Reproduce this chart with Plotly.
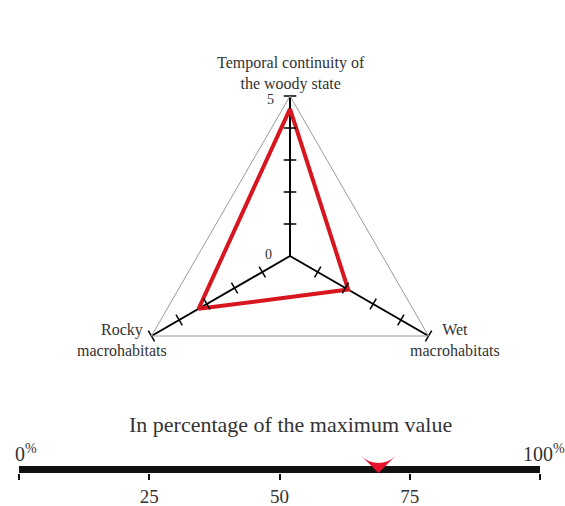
import plotly.graph_objects as go

# ---- data ----
categories = ["Temporal continuity of the woody state", "Wet macrohabitats", "Rocky macrohabitats"]
category_labels = ["Temporal continuity of<br>the woody state", "Wet<br>macrohabitats", "Rocky<br>macrohabitats"]
values = [4.6, 2.1, 3.3]
tick_levels = [1, 2, 3, 4, 5]
radial_ticks = ["0", "5"]
scale_ticks = [0, 25, 50, 75, 100]
scale_ticktext = ["", "25", "50", "75", ""]
percent_value = 69

FONT = "Liberation Serif"
TXT = "#333333"
W, H = 565, 506

fig = go.Figure()

# red profile
fig.add_trace(go.Scatterpolar(
    r=values + [values[0]], theta=categories + [categories[0]],
    mode="lines", line=dict(color="#d7161f", width=4),
    subplot="polar", showlegend=False, hoverinfo="skip"))

# tick marks on each spoke
angles = {categories[0]: 0, categories[1]: -60, categories[2]: 60}
for cat in categories:
    fig.add_trace(go.Scatterpolar(
        r=tick_levels, theta=[cat] * len(tick_levels), mode="markers",
        marker=dict(symbol="line-ew", size=9, angle=angles[cat],
                    line=dict(color="black", width=1.5)),
        subplot="polar", showlegend=False, hoverinfo="skip"))

# thick percentage bar spanning the scale (drawn as a trace so the marker sits on top)
fig.add_trace(go.Scatter(
    x=[scale_ticks[0], scale_ticks[-1]], y=[0.342, 0.342], xaxis="x2", yaxis="y2",
    mode="lines", line=dict(color="#111111", width=7),
    cliponaxis=False, showlegend=False, hoverinfo="skip"))

# percentage marker
fig.add_trace(go.Scatter(
    x=[percent_value], y=[0.283], xaxis="x2", yaxis="y2", mode="markers",
    marker=dict(symbol="arrow-wide", angle=180, size=24, color="#e5102b"),
    cliponaxis=False, showlegend=False, hoverinfo="skip"))

fig.update_layout(
    width=W, height=H, margin=dict(l=0, r=0, t=0, b=0, autoexpand=False),
    paper_bgcolor="white", plot_bgcolor="rgba(0,0,0,0)",
    font=dict(family=FONT, color=TXT),
    polar=dict(
        domain=dict(x=[130 / W, 450 / W], y=[1 - 416 / H, 1 - 96 / H]),
        gridshape="linear", bgcolor="white",
        angularaxis=dict(direction="clockwise", rotation=90,
                         showline=True, linecolor="#9a9a9a", linewidth=1,
                         showgrid=True, gridcolor="black", gridwidth=1.5,
                         ticks="", showticklabels=False),
        radialaxis=dict(range=[0, 5], angle=90, showline=False, showgrid=False,
                        ticks="", showticklabels=False),
    ),
    xaxis2=dict(domain=[19 / W, 540 / W], anchor="free", position=1 - 473 / H,
                range=[0, 100], automargin=False, showline=False,
                ticks="outside", tickvals=scale_ticks, ticktext=scale_ticktext,
                ticklen=6, tickwidth=1.5, tickcolor="#111111",
                tickfont=dict(size=19, family=FONT, color=TXT),
                showgrid=False, zeroline=False, fixedrange=True),
    yaxis2=dict(domain=[1 - 490 / H, 1 - 430 / H], anchor="x2", range=[0, 1],
                visible=False, fixedrange=True, automargin=False),
)

def note(text, x, y, size, xref="paper", **kw):
    fig.add_annotation(text=text, xref=xref, yref="paper", x=x, y=y, showarrow=False,
                       align="center", xanchor=kw.pop("xanchor", "center"), yanchor="middle",
                       font=dict(size=size, family=FONT, color=TXT), **kw)

note(category_labels[0], 291 / W, 1 - 73 / H, 16)
note(category_labels[1], 455 / W, 1 - 340 / H, 16)
note(category_labels[2], 122 / W, 1 - 340 / H, 16)
note(radial_ticks[1], 270 / W, 1 - 100 / H, 14)
note(radial_ticks[0], 268 / W, 1 - 254 / H, 14)
note("In percentage of the maximum value", 290 / W, 1 - 424 / H, 22)
note("0<sup>%</sup>", 0, 1 - 453 / H, 20, xref="x2", xanchor="left", xshift=-6)
note("100<sup>%</sup>", 100, 1 - 453 / H, 20, xref="x2", xshift=4)

fig.write_html("out.html", config={"displayModeBar": False},
               post_script="document.body.style.margin='0';document.body.style.overflow='hidden';")
